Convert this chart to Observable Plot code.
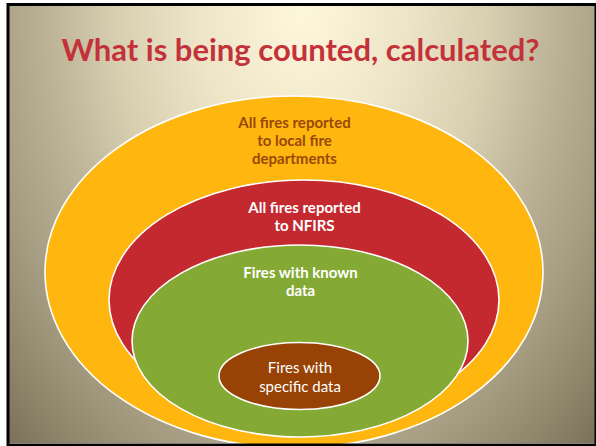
<!DOCTYPE html>
<html>
<head>
<meta charset="utf-8">
<script src="https://cdn.jsdelivr.net/npm/d3@7"></script>
<script src="https://cdn.jsdelivr.net/npm/@observablehq/plot@0.6"></script>
<style>
  html, body { margin: 0; padding: 0; background: #fff; }
</style>
</head>
<body>
<div id="chart"></div>
<script>
// ---- data ----
const title = "What is being counted, calculated?";
const sets = [
  "All fires reported\nto local fire\ndepartments",
  "All fires reported\nto NFIRS",
  "Fires with known\ndata",
  "Fires with\nspecific data"
];
// nested ellipses (diagram units = reference pixels)
const centerX = [294, 304, 300, 299.5];
const centerY = [272, 300, 341, 376];
const radiusX = [249, 195, 168, 80.5];
const radiusY = [176, 120, 96, 33.5];
const labelY  = [140, 216, 281, 376];
const fills   = ["#FFB60F", "#C3292F", "#84A934", "#984205"];
const labelColors = ["#984807", "#FFFFFF", "#FFFFFF", "#FFFFFF"];

const idx = d3.range(sets.length);

const ellipseRender = (index, scales, values, dimensions, context) => {
  const g = d3.create("svg:g");
  for (const i of index) {
    const cx = scales.x(centerX[i]), cy = scales.y(centerY[i]);
    g.append("ellipse")
      .attr("cx", cx).attr("cy", cy)
      .attr("rx", Math.abs(scales.x(centerX[i] + radiusX[i]) - cx))
      .attr("ry", Math.abs(scales.y(centerY[i] + radiusY[i]) - cy))
      .attr("fill", fills[i])
      .attr("stroke", "#ffffff")
      .attr("stroke-width", 1.6);
  }
  return g.node();
};

const chart = Plot.plot({
  width: 596,
  height: 446,
  margin: 0,
  x: {domain: [0, 596], range: [0, 596], axis: null},
  y: {domain: [0, 446], range: [0, 446], axis: null},
  style: {
    background: "radial-gradient(ellipse farthest-corner at 50% 0%, #FFF7DC 0%, #EEE5C8 25%, #D8CFB1 45%, #B4AB90 66%, #A69D82 76%, #8F856B 90%, #7A7158 100%) 9px 5px / 586px 438px no-repeat, #ffffff",
    fontFamily: "Lato, 'Open Sans', sans-serif",
    overflow: "hidden"
  },
  marks: [
    Plot.dot(idx, {x: i => centerX[i], y: i => centerY[i], render: ellipseRender}),
    Plot.text(idx.slice(0, 3), {
      x: i => centerX[i], y: i => labelY[i], text: i => sets[i],
      fill: i => labelColors[i], fontWeight: "bold", fontSize: 15, lineHeight: 1.2
    }),
    Plot.text(idx.slice(3), {
      x: i => centerX[i], y: i => labelY[i], text: i => sets[i],
      fill: i => labelColors[i], fontWeight: "normal", fontSize: 15, lineHeight: 1.27
    }),
    Plot.text([title], {
      x: () => 300, y: () => 51, text: d => d,
      fill: "#C3323A", fontWeight: "bold", fontSize: 31
    }),
    Plot.frame({stroke: "#000000", strokeWidth: 3, insetLeft: 7.5, insetTop: 4, insetRight: 0.5, insetBottom: 1.5})
  ]
});
document.getElementById("chart").appendChild(chart);
</script>
</body>
</html>
